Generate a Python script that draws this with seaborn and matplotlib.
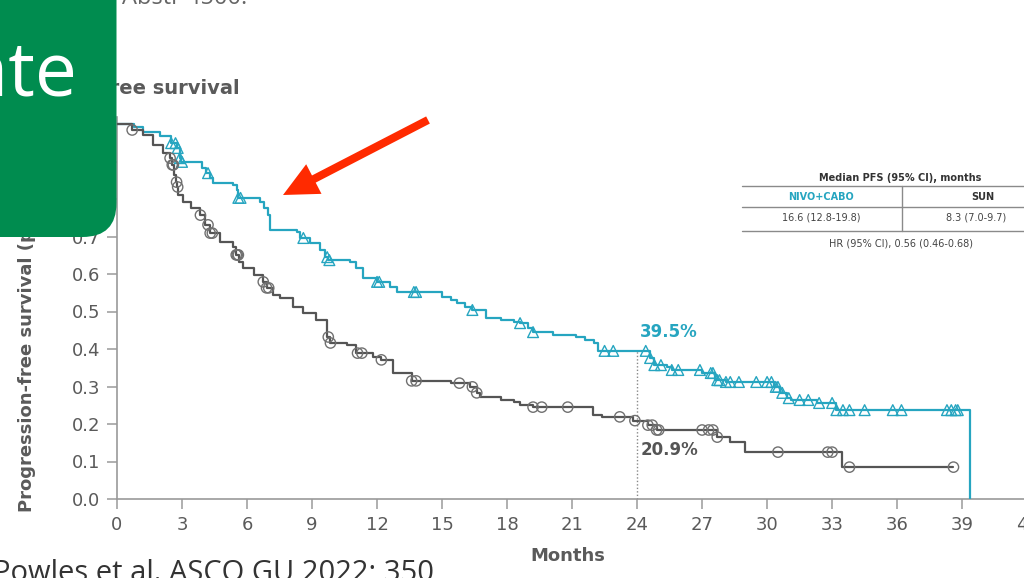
import numpy as np
import matplotlib
matplotlib.use("Agg")
import matplotlib.pyplot as plt
from matplotlib.patches import FancyBboxPatch, FancyArrowPatch
from matplotlib.transforms import IdentityTransform
import seaborn as sns

# Kaplan-Meier step data: event times (months) and survival after each step
nivo_t = [0, 0.8, 1.2, 2.0, 2.5, 2.75, 2.9, 2.95, 3.9, 4.1, 4.3, 4.45, 5.35,
          5.55, 5.6, 6.6, 6.8, 6.95, 7.05, 8.3, 8.45, 8.9, 9.35, 9.6, 9.75,
          10.75, 11.05, 11.35, 12.0, 12.6, 12.9, 15.0, 15.4, 15.7, 16.05,
          16.4, 17.05, 17.7, 18.3, 18.6, 18.95, 19.2, 20.1, 21.2, 21.6, 22.0,
          22.2, 24.6, 24.8, 25.4, 25.6, 27.0, 27.6, 28.1, 30.3, 30.6, 30.9,
          31.1, 32.3, 33.2, 39.35]
nivo_s = [1.0, 0.992, 0.979, 0.968, 0.949, 0.936, 0.909, 0.899, 0.883, 0.869,
          0.857, 0.843, 0.837, 0.824, 0.803, 0.792, 0.776, 0.757, 0.717,
          0.712, 0.696, 0.683, 0.664, 0.645, 0.637, 0.632, 0.616, 0.589,
          0.579, 0.565, 0.552, 0.539, 0.531, 0.523, 0.512, 0.504, 0.483,
          0.477, 0.472, 0.469, 0.456, 0.445, 0.437, 0.432, 0.424, 0.416,
          0.395, 0.376, 0.357, 0.352, 0.344, 0.336, 0.317, 0.312, 0.299,
          0.283, 0.269, 0.264, 0.256, 0.237, 0.0]
nivo_cens = [2.5, 2.7, 2.8, 2.9, 3.0, 4.2, 5.6, 5.7, 8.6, 9.7, 9.8, 12.0,
             12.1, 13.7, 13.8, 16.4, 18.6, 19.2, 22.5, 22.9, 24.4, 24.6, 24.8,
             25.1, 25.6, 25.9, 26.9, 27.4, 27.5, 27.7, 27.8, 28.1, 28.3, 28.7,
             29.5, 30.0, 30.2, 30.4, 30.5, 30.7, 31.0, 31.5, 31.9, 32.4, 33.0,
             33.2, 33.5, 33.8, 34.5, 35.8, 36.2, 38.3, 38.5, 38.7, 38.8]

sun_t = [0, 0.7, 1.2, 1.65, 2.1, 2.45, 2.55, 2.65, 2.72, 2.78, 2.82, 3.05,
         3.4, 3.85, 4.05, 4.3, 4.75, 5.35, 5.5, 5.65, 5.8, 6.3, 6.75, 6.9,
         7.2, 7.5, 8.1, 8.6, 9.2, 9.7, 9.85, 10.6, 11.05, 11.8, 12.2, 12.75,
         13.6, 15.4, 16.3, 16.6, 16.75, 17.7, 18.3, 18.6, 19.2, 21.95, 22.4,
         23.8, 24.5, 24.9, 27.7, 28.3, 29.0, 33.45, 38.6]
sun_s = [1.0, 0.984, 0.971, 0.944, 0.923, 0.909, 0.891, 0.864, 0.845, 0.832,
         0.811, 0.792, 0.776, 0.757, 0.731, 0.709, 0.685, 0.672, 0.651, 0.632,
         0.616, 0.597, 0.579, 0.563, 0.544, 0.536, 0.512, 0.496, 0.477, 0.432,
         0.416, 0.411, 0.389, 0.379, 0.371, 0.336, 0.315, 0.309, 0.299, 0.283,
         0.272, 0.264, 0.259, 0.251, 0.245, 0.224, 0.219, 0.209, 0.197, 0.184,
         0.165, 0.152, 0.125, 0.085, 0.085]
sun_cens = [0.7, 2.45, 2.55, 2.6, 2.75, 2.8, 3.85, 4.2, 4.3, 4.4, 5.5, 5.55,
            5.6, 6.75, 6.9, 7.0, 9.75, 9.85, 11.1, 11.3, 12.2, 13.6, 13.8,
            15.8, 16.4, 16.6, 19.2, 19.6, 20.8, 23.2, 23.9, 24.5, 24.7, 24.9,
            25.0, 27.0, 27.3, 27.5, 27.7, 30.5, 32.8, 33.0, 33.8, 38.6]

landmark = 24
x_ticks = list(range(0, 43, 3))
y_ticks = [round(0.1 * i, 1) for i in range(11)]

table_title = "Median PFS (95% CI), months"
arm_names = ["NIVO+CABO", "SUN"]
arm_medians = ["16.6 (12.8-19.8)", "8.3 (7.0-9.7)"]
hr_text = "HR (95% CI), 0.56 (0.46-0.68)"

TEAL = "#26a5c0"
DARK = "#555555"
CIRC = "#707070"
TXT = "#5a5a5a"
W, H = 1024, 578

sns.set_theme(style="white")
plt.rcParams["font.family"] = ["DejaVu Sans"]


def step_at(ts, ss, t):
    i = np.searchsorted(np.asarray(ts), t, side="right") - 1
    return np.asarray(ss)[i]


def fx(x):
    return x / W


def fy(y):
    return 1 - y / H


fig = plt.figure(figsize=(W / 100, H / 100), dpi=100, facecolor="white")
px_m = 21.67
px_s = 375
ax = fig.add_axes([fx(117), fy(499), 42 * px_m / W, 1.02 * px_s / H])
ax.set_facecolor("white")

# survival curves
sns.lineplot(x=nivo_t, y=nivo_s, drawstyle="steps-post", estimator=None,
             sort=False, color=TEAL, linewidth=1.6, ax=ax, zorder=3)
sns.lineplot(x=sun_t, y=sun_s, drawstyle="steps-post", estimator=None,
             sort=False, color=DARK, linewidth=1.6, ax=ax, zorder=3)

# censoring marks
nivo_cy = [step_at(nivo_t, nivo_s, t) for t in nivo_cens]
sun_cy = [step_at(sun_t, sun_s, t) for t in sun_cens]
sns.scatterplot(x=nivo_cens, y=nivo_cy, marker="^", s=60, facecolors="none",
                edgecolors=TEAL, linewidth=1.0, ax=ax, zorder=4)
sns.scatterplot(x=sun_cens, y=sun_cy, marker="o", s=55, facecolors="none",
                edgecolors=CIRC, linewidth=1.0, ax=ax, zorder=4)

# landmark at 24 months
nivo_24 = step_at(nivo_t, nivo_s, landmark)
sun_24 = step_at(sun_t, sun_s, landmark)
ax.vlines(landmark, 0, nivo_24, colors="#888888", linestyles=(0, (1, 1.5)),
          linewidth=1.0, zorder=2)
ax.text(landmark + 0.15, nivo_24 + 0.05, f"{nivo_24 * 100:.1f}%", color=TEAL,
        fontsize=12, fontweight="bold", ha="left", va="center")
ax.text(landmark + 0.15, sun_24 - 0.078, f"{sun_24 * 100:.1f}%", color=DARK,
        fontsize=12, fontweight="bold", ha="left", va="center")

ax.set_xlim(0, 42)
ax.set_ylim(0, 1.02)
ax.set_xticks(x_ticks)
ax.set_yticks(y_ticks)
ax.set_yticklabels([f"{v:.1f}" for v in y_ticks])
ax.tick_params(axis="both", which="major", direction="out", length=7,
               width=1.1, color="#9a9a9a", labelsize=13, labelcolor=TXT,
               pad=5, left=True, bottom=True)
for side in ["top", "right"]:
    ax.spines[side].set_visible(False)
for side in ["left", "bottom"]:
    ax.spines[side].set_color("#9a9a9a")
    ax.spines[side].set_linewidth(1.2)
ax.set_xlabel("")
ax.set_ylabel("")

fig.text(fx(568), fy(556), "Months", ha="center", va="center", fontsize=13,
         fontweight="bold", color=TXT)
fig.text(fx(27), fy(512), "Progression-free survival (probability)",
         rotation=90, ha="center", va="bottom", fontsize=13,
         fontweight="bold", color=TXT)
fig.text(fx(240), fy(88), "Progression-free survival", ha="right",
         va="center", fontsize=14, fontweight="bold", color=TXT, zorder=3)

# median PFS table
fig.text(fx(900), fy(178), table_title, ha="center", va="center",
         fontsize=7, fontweight="bold", color="#333333")
for yy in (186, 207, 231):
    fig.add_artist(plt.Line2D([fx(742), fx(1030)], [fy(yy), fy(yy)],
                              color="#8a8a8a", linewidth=1.0))
fig.add_artist(plt.Line2D([fx(902), fx(902)], [fy(186), fy(231)],
                          color="#8a8a8a", linewidth=1.0))
fig.text(fx(821), fy(197), arm_names[0], ha="center", va="center",
         fontsize=7, fontweight="bold", color=TEAL)
fig.text(fx(983), fy(197), arm_names[1], ha="center", va="center",
         fontsize=7, fontweight="bold", color="#333333")
fig.text(fx(821), fy(218), arm_medians[0], ha="center", va="center",
         fontsize=7, color="#444444")
fig.text(fx(976), fy(218), arm_medians[1], ha="center", va="center",
         fontsize=7, color="#444444")
fig.text(fx(901), fy(243), hr_text, ha="center", va="center",
         fontsize=7, color="#444444")

# slide decorations
fig.text(fx(247), fy(4), "Abstr 4500.", ha="right", va="baseline",
         fontsize=17, family="Open Sans", color="#666666")
fig.text(fx(-7), fy(581), "Powles et al. ASCO GU 2022; 350", ha="left",
         va="baseline", fontsize=21, family="Open Sans", color="#333333")

box = FancyBboxPatch((-60, H - 237), 60 + 116.5, 300,
                     boxstyle="round,pad=0,rounding_size=34",
                     transform=IdentityTransform(), facecolor="#008c4f",
                     edgecolor="none", zorder=10)
fig.add_artist(box)
fig.text(fx(77), fy(96), "Update", ha="right", va="baseline", fontsize=54,
         family="Open Sans", color="white", zorder=11)

arrow = FancyArrowPatch((428, H - 120), (283, H - 195),
                        arrowstyle="simple,head_length=25,head_width=24,tail_width=5.8",
                        mutation_scale=1, shrinkA=0, shrinkB=0,
                        transform=IdentityTransform(), color="#ff2a00",
                        linewidth=0, zorder=12)
fig.add_artist(arrow)

fig.savefig("out.png", dpi=100, facecolor="white")
